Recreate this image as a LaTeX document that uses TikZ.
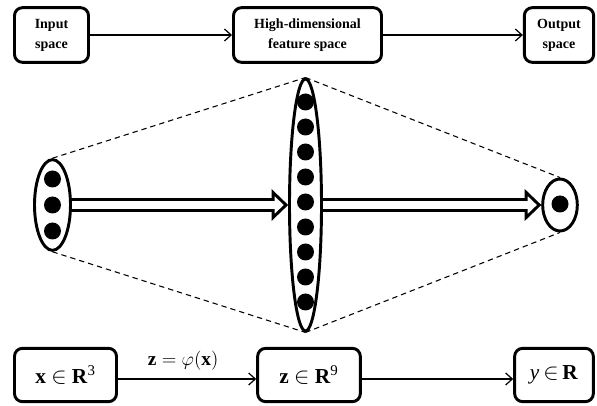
\documentclass[tikz,border=0pt]{standalone}
\usepackage{fontspec}
\setmainfont{Liberation Serif}
\usetikzlibrary{shapes.geometric,arrows.meta,calc}
\begin{document}
\begin{tikzpicture}[x=0.75pt,y=-0.75pt,
  box/.style={draw, line width=2.2pt, rounded corners=6pt, align=center, inner sep=0pt},
  topbox/.style={box, minimum height=41pt, font=\fontsize{10.5}{15}\selectfont\bfseries},
  botbox/.style={box, minimum height=40pt, font=\fontsize{16}{19}\selectfont},
  flow/.style={line width=0.9pt, -{Straight Barb[length=5pt,width=9pt,line width=0.9pt]}},
  layer/.style={draw, ellipse, line width=2.2pt, inner sep=0pt},
  dot/.style={circle, fill=black, inner sep=0pt, minimum size=12.75pt},
  proj/.style={line width=0.8pt, dash pattern=on 4pt off 3pt},
  hollow/.style={line width=2.2pt, line join=miter},
  lbl/.style={font=\fontsize{14.5}{17}\selectfont, inner sep=0pt}
]
\useasboundingbox (0,0) rectangle (597,406);

% top row
\node[topbox, minimum width=55.5pt] (in) at (51.5,35) {Input\\space};
\node[topbox, minimum width=111pt] (feat) at (307.5,35) {High-dimensional\\feature space};
\node[topbox, minimum width=52pt] (out) at (559,35) {Output\\space};
\draw[flow] (in) -- (feat);
\draw[flow] (feat) -- (out);

% layers
\node[layer, minimum width=27pt, minimum height=68pt] (L) at (52.5,205) {};
\node[layer, minimum width=24pt, minimum height=189pt] (M) at (305.5,205) {};
\node[layer, minimum width=26pt, minimum height=39pt] (R) at (560,205) {};

\foreach \i/\yy in {1/179,2/205,3/231} \node[dot] (l\i) at (52.5,\yy) {};
\foreach \i in {0,...,8} \node[dot] (m\i) at (305.5,{102+25*\i}) {};
\node[dot] (r0) at (560,204) {};

% hollow arrows
\draw[hollow] ($(L.east)+(-1,-5.5)$) -- ($(M.west)+(-15,-5.5)$) -- ($(M.west)+(-15,-12.5)$)
  -- ($(M.west)+(-2,0)$) -- ($(M.west)+(-15,12.5)$) -- ($(M.west)+(-15,5.5)$) -- ($(L.east)+(-1,5.5)$);
\draw[hollow] ($(M.east)+(-1,-5.5)$) -- ($(R.west)+(-15,-5.5)$) -- ($(R.west)+(-15,-12.5)$)
  -- ($(R.west)+(-2,0)$) -- ($(R.west)+(-15,12.5)$) -- ($(R.west)+(-15,5.5)$) -- ($(M.east)+(-1,5.5)$);

% projection lines
\draw[proj] (L.north) -- (M.north);
\draw[proj] (L.south) -- (M.south);
\draw[proj] (M.north) -- (R.north);
\draw[proj] (M.south) -- (R.south);

% bottom row
\node[botbox, minimum width=76.5pt] (x) at (65.5,375) {\textbf{x} $\in$ \textbf{R}\textsuperscript{3}};
\node[botbox, minimum width=77pt] (z) at (309,375) {\textbf{z} $\in$ \textbf{R}\textsuperscript{9}};
\node[botbox, minimum width=59pt] (y) at (554,375) {\textit{y}$\,\in\,$\textbf{R}};
\draw[flow] ([yshift=-3pt]x.east) -- node[lbl, above=6pt, xshift=-3pt] {$\textbf{z}=\varphi\bigl(\textbf{x}\bigr)$} ([yshift=-3pt]z.west);
\draw[flow] ([yshift=-3pt]z.east) -- ([yshift=-3pt]y.west);
\end{tikzpicture}
\end{document}
